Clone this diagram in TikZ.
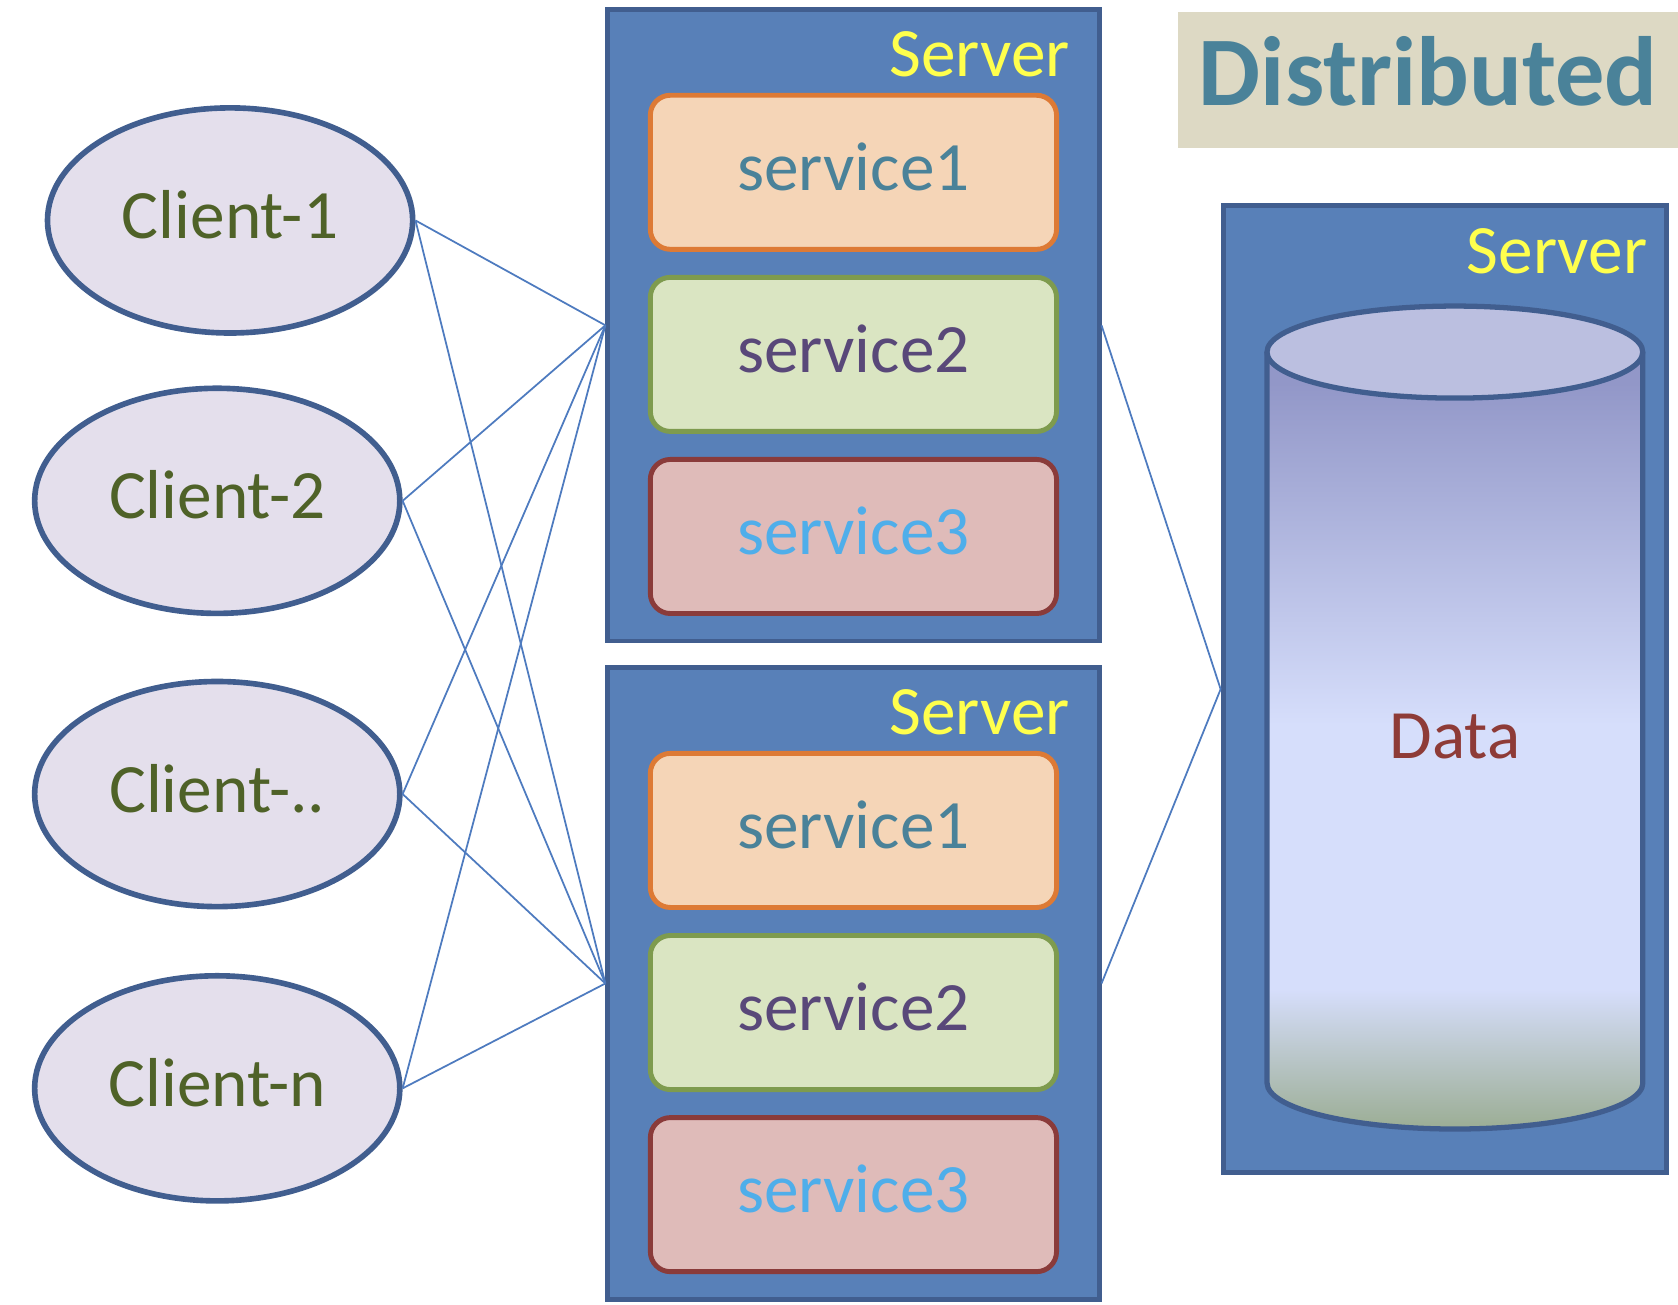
\documentclass[tikz,border=0pt]{standalone}
\usepackage{fontspec}
\setmainfont{Carlito}
\usetikzlibrary{positioning,shapes.geometric}

\definecolor{clientfill}{HTML}{E4DFEC}
\definecolor{clienttext}{HTML}{4F6228}
\definecolor{edgeblue}{HTML}{415E8F}
\definecolor{srvfill}{HTML}{5880B8}
\definecolor{srvtext}{HTML}{FFFF4D}
\definecolor{onefill}{HTML}{F5D5B7}
\definecolor{onedraw}{HTML}{DD7A35}
\definecolor{onetext}{HTML}{4A8299}
\definecolor{twofill}{HTML}{DAE5C2}
\definecolor{twodraw}{HTML}{7E9B4E}
\definecolor{twotext}{HTML}{594879}
\definecolor{threefill}{HTML}{DFBBB9}
\definecolor{threedraw}{HTML}{8A3B3A}
\definecolor{threetext}{HTML}{4FAEEA}
\definecolor{titlefill}{HTML}{DDD9C4}
\definecolor{linkblue}{HTML}{4E7BBF}
\definecolor{dbcap}{HTML}{BBBFE0}
\definecolor{dbtop}{HTML}{9297C8}
\definecolor{dblight}{HTML}{D6DEFB}
\definecolor{dbbot}{HTML}{9BAD94}
\definecolor{datatext}{HTML}{8E3B37}

\pgfdeclareverticalshading{dbshade}{100bp}{color(0bp)=(dbbot); color(25bp)=(dbbot); color(34bp)=(dblight); color(51bp)=(dblight); color(73bp)=(dbtop); color(100bp)=(dbtop)}

\newcommand{\lblfont}{\fontsize{19.7}{24}\selectfont}

\tikzset{
    client/.style={ellipse, draw=edgeblue, line width=1.6pt, fill=clientfill, text=clienttext,
        minimum width=3.65cm, minimum height=2.25cm, text depth=0.12cm, font=\lblfont},
    server/.style={rectangle, draw=edgeblue, line width=1.4pt, fill=srvfill,
        minimum width=4.91cm, minimum height=6.31cm},
    srvlabel/.style={text=srvtext, inner sep=0pt, anchor=base east, font=\lblfont},
    service/.style={rectangle, rounded corners=0.2cm, line width=1.4pt, outer sep=0pt,
        minimum width=4.06cm, minimum height=1.54cm, text depth=0.12cm, font=\lblfont},
    svcone/.style={service, draw=onedraw, fill=onefill, text=onetext},
    svctwo/.style={service, draw=twodraw, fill=twofill, text=twotext},
    svcthree/.style={service, draw=threedraw, fill=threefill, text=threetext},
    titlebox/.style={rectangle, fill=titlefill, text=onetext, minimum width=5cm, minimum height=1.36cm,
        text depth=0.18cm, font=\bfseries\fontsize{28}{34}\selectfont},
    link/.style={draw=linkblue, line width=0.5pt},
}

\begin{document}
\begin{tikzpicture}[x=0.010702cm, y=-0.010702cm]
    \useasboundingbox (0,0) rectangle (1568,1219);

    \node[client] (c1) at (215,206) {Client-1};
    \node[client] (c2) at (203,468) {Client-2};
    \node[client] (c3) at (203,742) {Client-..};
    \node[client] (cn) at (203,1017) {Client-n};

    \node[server] (srvA) at (797.5,304) {};
    \node[srvlabel] (lblA) at ([xshift=-0.31cm, yshift=-0.69cm]srvA.north east) {Server};
    \node[svcone] (a1) at (797.5,161) {service1};
    \node[svctwo, below=0.28cm of a1] (a2) {service2};
    \node[svcthree, below=0.28cm of a2] (a3) {service3};

    \node[server] (srvB) at (797.5,919) {};
    \node[srvlabel] (lblB) at ([xshift=-0.31cm, yshift=-0.69cm]srvB.north east) {Server};
    \node[svcone] (b1) at (797.5,776) {service1};
    \node[svctwo, below=0.28cm of b1] (b2) {service2};
    \node[svcthree, below=0.28cm of b2] (b3) {service3};

    \node[titlebox] (title) at (1334.5,74.5) {Distributed};

    \node[server, minimum width=4.43cm, minimum height=9.67cm] (srvC) at (1350,644) {};
    \node[srvlabel] (lblC) at ([xshift=-0.21cm, yshift=-0.70cm]srvC.north east) {Server};

    % data store
    \shade[shading=dbshade] (1184,329) -- (1184,1012)
        arc[start angle=180, end angle=360, x radius=1.878cm, y radius=0.46cm] -- (1535,329) -- cycle;
    \draw[edgeblue, line width=1.5pt] (1184,329) -- (1184,1012)
        arc[start angle=180, end angle=360, x radius=1.878cm, y radius=0.46cm] -- (1535,329);
    \draw[edgeblue, line width=1.5pt, fill=dbcap] (1359.5,329) ellipse [x radius=1.878cm, y radius=0.46cm];
    \node[text=datatext, font=\lblfont] (data) at (1359.5,688) {Data};

    \foreach \c in {c1,c2,c3,cn} {
        \draw[link] (\c.east) -- (srvA.west);
        \draw[link] (\c.east) -- (srvB.west);
    }
    \draw[link] (srvA.east) -- (srvC.west);
    \draw[link] (srvB.east) -- (srvC.west);
\end{tikzpicture}
\end{document}
